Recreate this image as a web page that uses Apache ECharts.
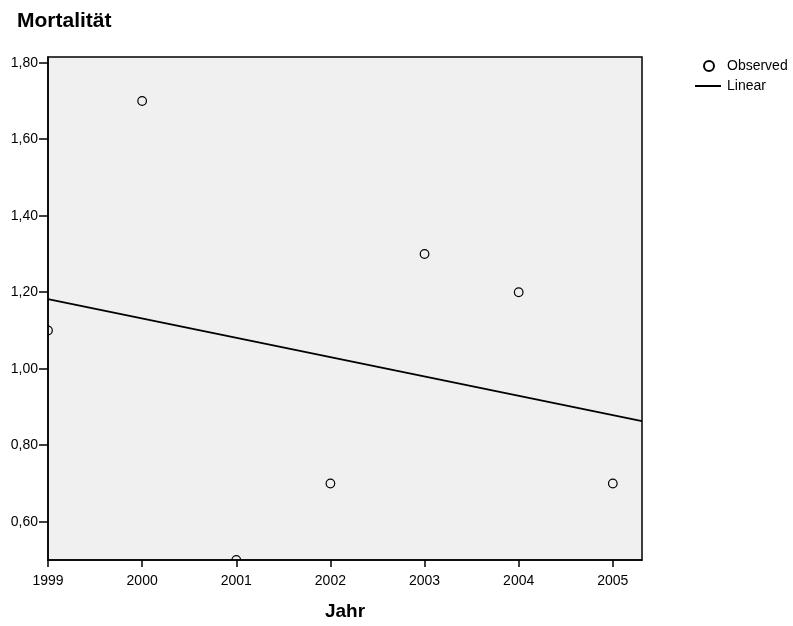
<!DOCTYPE html>
<html><head><meta charset="utf-8">
<script src="https://cdn.jsdelivr.net/npm/echarts@6/dist/echarts.min.js"></script>
<style>html,body{margin:0;padding:0;background:#fff}#c{width:793px;height:626px}</style>
</head><body><div id="c"></div>
<script>
const years = [1999, 2000, 2001, 2002, 2003, 2004, 2005];
const observed = [1.10, 1.70, 0.50, 0.70, 1.30, 1.20, 0.70];
const linearFit = [[1999, 1.182], [2005.31, 0.863]];
const xTicks = [1999, 2000, 2001, 2002, 2003, 2004, 2005];
const yTicks = [0.6, 0.8, 1.0, 1.2, 1.4, 1.6, 1.8];

const FONT = '"Liberation Sans", Arial, sans-serif';
const chart = echarts.init(document.getElementById('c'));
chart.setOption({
  animation: false,
  backgroundColor: '#fff',
  title: { text: 'Mortalität', left: 12, top: 6,
    textStyle: { fontFamily: FONT, fontWeight: 'bold', fontSize: 21, color: '#000' } },
  legend: [
    { data: [{ name: 'Observed', icon: 'emptyCircle' }], left: 698, top: 54, itemWidth: 10, itemHeight: 10,
      itemStyle: { color: '#000', borderColor: '#000' },
      textStyle: { fontFamily: FONT, fontSize: 14, color: '#000', padding: [0, 0, 0, 8] } },
    { data: [{ name: 'Linear', icon: 'rect' }], left: 690, top: 74, itemWidth: 26, itemHeight: 2,
      itemStyle: { color: '#000' },
      textStyle: { fontFamily: FONT, fontSize: 14, color: '#000', padding: [0, 0, 0, 1] } }
  ],
  grid: { left: 48, right: 151, top: 57, bottom: 66, show: true,
    backgroundColor: '#f0f0f0', borderColor: '#000', borderWidth: 1.5 },
  xAxis: {
    type: 'value', min: 1999, max: 2005.31,
    name: 'Jahr', nameLocation: 'middle', nameGap: 42,
    nameTextStyle: { fontFamily: FONT, fontWeight: 'bold', fontSize: 19, color: '#000' },
    axisLine: { show: true, onZero: false, lineStyle: { color: '#000', width: 1.5 } },
    axisTick: { show: true, length: 7, customValues: xTicks, lineStyle: { color: '#000', width: 1.5 } },
    axisLabel: { customValues: xTicks, margin: 14, fontFamily: FONT, fontSize: 14, color: '#000',
      formatter: v => String(Math.round(v)) },
    splitLine: { show: false }
  },
  yAxis: {
    type: 'value', min: 0.5, max: 1.815,
    axisLine: { show: true, onZero: false, lineStyle: { color: '#000', width: 1.5 } },
    axisTick: { show: true, length: 9, customValues: yTicks, lineStyle: { color: '#000', width: 1.5 } },
    axisLabel: { customValues: yTicks, margin: 10, fontFamily: FONT, fontSize: 14, color: '#000',
      formatter: v => v.toFixed(2).replace('.', ',') },
    splitLine: { show: false }
  },
  series: [
    { name: 'Observed', type: 'custom', clip: true,
      itemStyle: { color: '#000' },
      encode: { x: 0, y: 1 },
      data: years.map((y, i) => [y, observed[i]]),
      renderItem: function (params, api) {
        const p = api.coord([api.value(0), api.value(1)]);
        return { type: 'circle', shape: { cx: p[0], cy: p[1], r: 4.3 },
          style: { fill: 'none', stroke: '#000', lineWidth: 1.2 } };
      } },
    { name: 'Linear', type: 'line', clip: true, showSymbol: false, symbol: 'none',
      lineStyle: { color: '#000', width: 1.8 }, itemStyle: { color: '#000' },
      data: linearFit }
  ]
});
</script></body></html>
